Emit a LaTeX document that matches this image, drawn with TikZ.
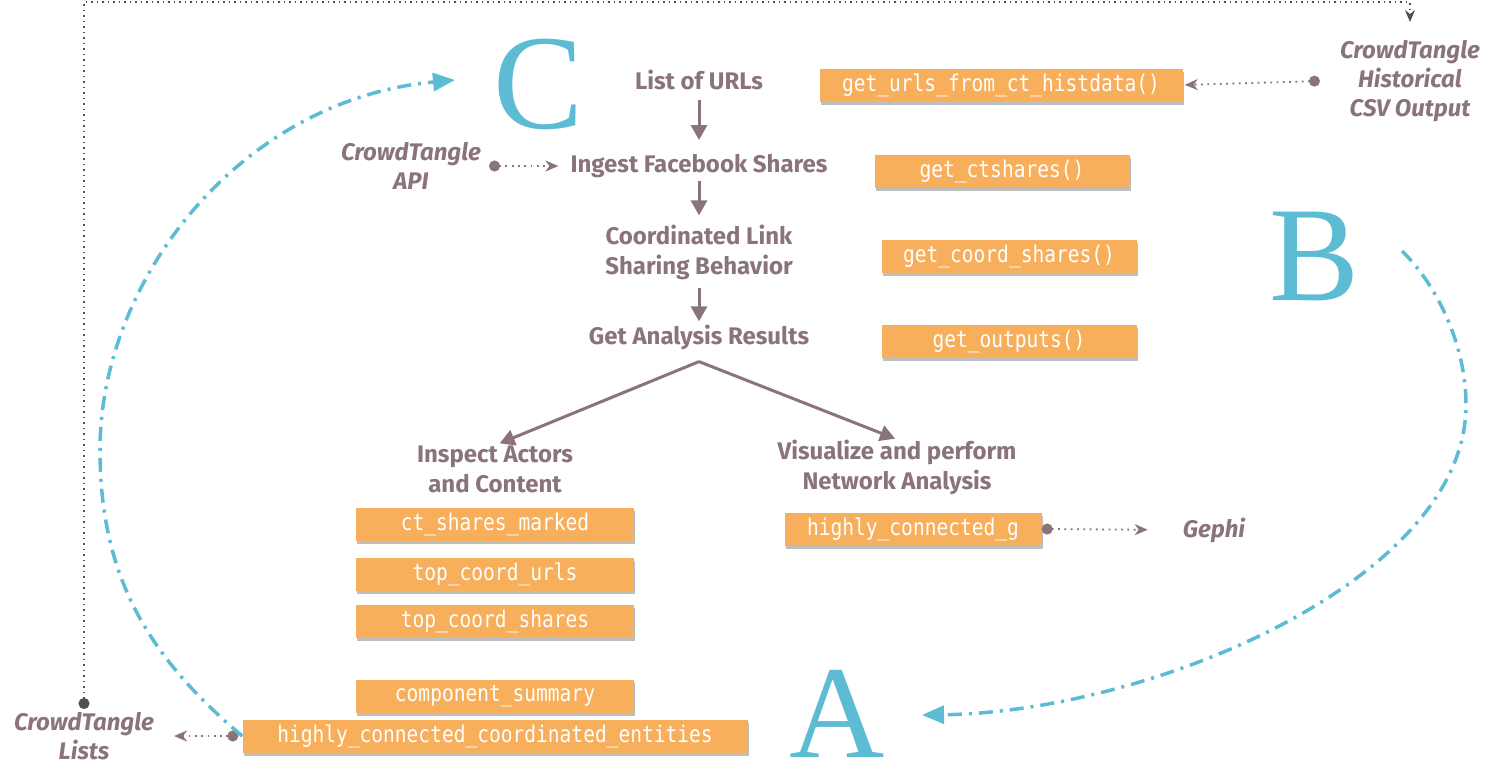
\documentclass[tikz,border=0pt]{standalone}
\usepackage{fontspec}
\usetikzlibrary{arrows.meta,shadows}
\newfontfamily\hfont{Fira Sans}
\newfontfamily\cfont{DejaVu Sans Mono}[FakeStretch=0.85]
\newfontfamily\lfont{Liberation Serif}
\definecolor{mauve}{RGB}{138,116,121}
\definecolor{boxorange}{RGB}{247,175,91}
\definecolor{cyanc}{RGB}{92,188,212}
\definecolor{dotgray}{RGB}{80,80,80}
\begin{document}
\begin{tikzpicture}[x=1pt,y=-1pt,
  lbl/.style={font=\hfont\bfseries\fontsize{24}{30}\selectfont, text=mauve, align=center, inner sep=0pt},
  ital/.style={font=\hfont\bfseries\itshape\fontsize{24}{29}\selectfont, text=mauve, align=center, inner sep=0pt},
  fn/.style={fill=boxorange, text=white, font=\cfont\fontsize{23}{26}\selectfont, minimum height=33pt, inner sep=0pt,
     drop shadow={shadow xshift=1pt, shadow yshift=-3pt, opacity=0.25, fill=black}},
  big/.style={font=\lfont\fontsize{135}{135}\selectfont, text=cyanc, inner sep=0pt},
  flow/.style={draw=mauve, line width=3pt, -{Triangle[length=15pt,width=16pt]}},
  link/.style={draw=mauve, line width=1.8pt, dash pattern=on 1.8pt off 4.5pt,
     {Circle[length=11pt,width=11pt]}-{Stealth[length=13pt,width=11pt,inset=4pt]}},
  topline/.style={draw=dotgray, line width=1.5pt, dash pattern=on 1.5pt off 4pt,
     {Circle[length=11pt,width=11pt]}-{Stealth[length=12pt,width=10pt,inset=4pt]}},
  cyanline/.style={draw=cyanc, line width=3.5pt, dash pattern=on 14pt off 7pt on 3pt off 7pt,
     -{Triangle[length=22pt,width=18pt]}}
]
\fill[white] (0,0) rectangle (1488,771);
\useasboundingbox (0,0) rectangle (1488,771);

% big letters
\node[big] (C) at (539,84) {C};
\node[big] (B) at (1315,256) {B};
\node[big, font=\lfont\fontsize{132}{132}\selectfont] (A) at (837,714) {A};

% flow labels
\node[lbl] (urls) at (699,80) {List of URLs};
\node[lbl] (ingest) at (699,166) {Ingest Facebook Shares};
\node[lbl] (coord) at (699,252) {Coordinated Link\\Sharing Behavior};
\node[lbl] (results) at (699,337) {Get Analysis Results};
\node[lbl] (inspect) at (495,469) {Inspect Actors\\and Content};
\node[lbl] (visual) at (897,467) {Visualize and perform\\Network Analysis};

% italic source labels
\node[ital] (ctapi) at (411,166) {CrowdTangle\\API};
\node[ital] (cthist) at (1410,81) {CrowdTangle\\Historical\\CSV Output};
\node[ital] (ctlists) at (84,736) {CrowdTangle\\Lists};
\node[ital] (gephi) at (1214,530) {Gephi};

% function boxes
\node[fn, minimum width=363pt] (fhist) at (1001,85) {get\_urls\_from\_ct\_histdata()};
\node[fn, minimum width=255pt] (fct) at (1002,171) {get\_ctshares()};
\node[fn, minimum width=255pt] (fcoord) at (1009,256) {get\_coord\_shares()};
\node[fn, minimum width=255pt] (fout) at (1009,341) {get\_outputs()};
\node[fn, minimum width=278pt] (fmarked) at (495,524) {ct\_shares\_marked};
\node[fn, minimum width=278pt] (furls) at (495,574) {top\_coord\_urls};
\node[fn, minimum width=278pt] (fshares) at (495,621) {top\_coord\_shares};
\node[fn, minimum width=278pt] (fcomp) at (495,696) {component\_summary};
\node[fn, minimum width=505pt] (fhcce) at (495,736) {highly\_connected\_coordinated\_entities};
\node[fn, minimum width=257pt] (fhcg) at (913,529) {highly\_connected\_g};

% main flow arrows
\draw[flow, shorten <=10pt, shorten >=14pt] (urls.south) -- (ingest.north);
\draw[flow, shorten <=3pt, shorten >=9pt] (ingest.south) -- (coord.north);
\draw[flow, shorten <=8pt, shorten >=3pt] (coord.south) -- (results.north);
\coordinate (apex) at ([yshift=-12pt]results.south);
\draw[flow, shorten >=5pt] (apex) -- (inspect.north);
\draw[flow, shorten >=2pt] (apex) -- (visual.north);

% dotted data links
\draw[link, shorten >=12pt] ([xshift=8pt]ctapi.east) -- (ingest.west);
\draw[link, shorten >=2pt] ([xshift=-20pt]cthist.west) -- (fhist.east);
\draw[link, shorten >=35pt] (fhcg.east) -- (gephi.west);
\draw[link] ([xshift=-4pt]fhcce.west) -- ([xshift=20pt]ctlists.east);

% top dotted loop
\coordinate (tl) at (84,2);
\coordinate (tr) at (1410,2);
\draw[topline, shorten >=18pt] ([yshift=3pt]ctlists.north) -- (tl) -- (tr) -- (cthist.north);

% cyan cycle curves
\coordinate (lmid) at (100,450);
\coordinate (cend) at (455,80);
\draw[cyanline] (fhcce.west) .. controls (147,656) and (100,575) .. (lmid)
   .. controls (100,280) and (240,100) .. (cend);
\coordinate (bstart) at (1402,251);
\coordinate (rmid) at (1466,405);
\coordinate (aend) at (922,715);
\draw[cyanline] (bstart) .. controls (1437,285) and (1466,345) .. (rmid)
   .. controls (1466,580) and (1150,712) .. (aend);
\end{tikzpicture}
\end{document}
